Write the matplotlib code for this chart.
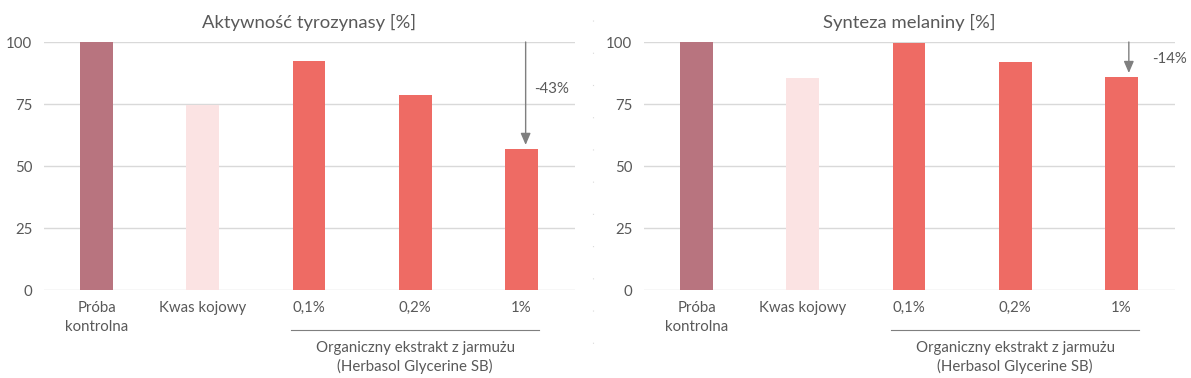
import matplotlib.pyplot as plt

plt.rcParams['font.family'] = ['Lato', 'DejaVu Sans']

categories = ['Próba\nkontrolna', 'Kwas kojowy', '0,1%', '0,2%', '1%']
tyrosinase = [100, 74.5, 92.5, 78.5, 57]
melanin = [100, 85.5, 99.5, 92, 86]
titles = ['Aktywność tyrozynasy [%]', 'Synteza melaniny [%]']
changes = ['-43%', '-14%']
group_label = 'Organiczny ekstrakt z jarmużu\n(Herbasol Glycerine SB)'
colors = ['#B8747F', '#FBE3E3', '#EE6B64', '#EE6B64', '#EE6B64']
yticks = [0, 25, 50, 75, 100]

fig = plt.figure(figsize=(11.91, 3.78), dpi=100)
W, H = 1191, 378
txt = '#595959'

panels = [(43.5, tyrosinase, 0), (643.5, melanin, 1)]
for left, vals, i in panels:
    ax = fig.add_axes([left / W, (H - 290) / H, 531 / W, 248 / H])
    x = list(range(len(categories)))
    ax.bar(x, vals, width=0.31, color=colors, zorder=3)
    ax.set_xlim(-0.5, 4.5)
    ax.set_ylim(0, 100)
    for t in yticks:
        ax.axhline(t, color='#D9D9D9', lw=1, zorder=1)
    ax.set_yticks(yticks)
    ax.set_xticks(x)
    ax.set_xticklabels(categories, fontsize=10.8, color=txt, linespacing=1.45, va='top')
    ax.tick_params(length=0, pad=8, labelsize=10.8, labelcolor=txt)
    for s in ax.spines.values():
        s.set_visible(False)
    ax.set_title(titles[i], fontsize=13.3, color=txt, pad=10)

    # arrow showing the reduction vs. control
    xa = 4.04 if i == 0 else 4.07
    ax.annotate('', xy=(xa, vals[4] + 1.5), xytext=(xa, 100),
                arrowprops=dict(arrowstyle='-|>,head_width=0.3,head_length=0.7',
                                color='#7F7F7F', lw=1, shrinkA=0, shrinkB=0),
                annotation_clip=False)
    tx, ty = (4.28, 81) if i == 0 else (4.45, 93)
    ax.text(tx, ty, changes[i], fontsize=10.8, color=txt,
            ha='center', va='center', clip_on=False)

    # group bracket line and label
    ax.plot([1.83, 4.17], [-16, -16], color='#7F7F7F', lw=0.8, clip_on=False)
    ax.text(3.0, -20.5, group_label, fontsize=10.8, color=txt,
            ha='center', va='top', linespacing=1.3, clip_on=False)

# faint dotted separator between the panels
fig.add_artist(plt.Line2D([593 / W, 593 / W], [1 - 20 / H, 1 - 355 / H],
                          color='#DADADA', lw=0.8, ls=(0, (1, 28))))

fig.savefig('out.png', dpi=100)
